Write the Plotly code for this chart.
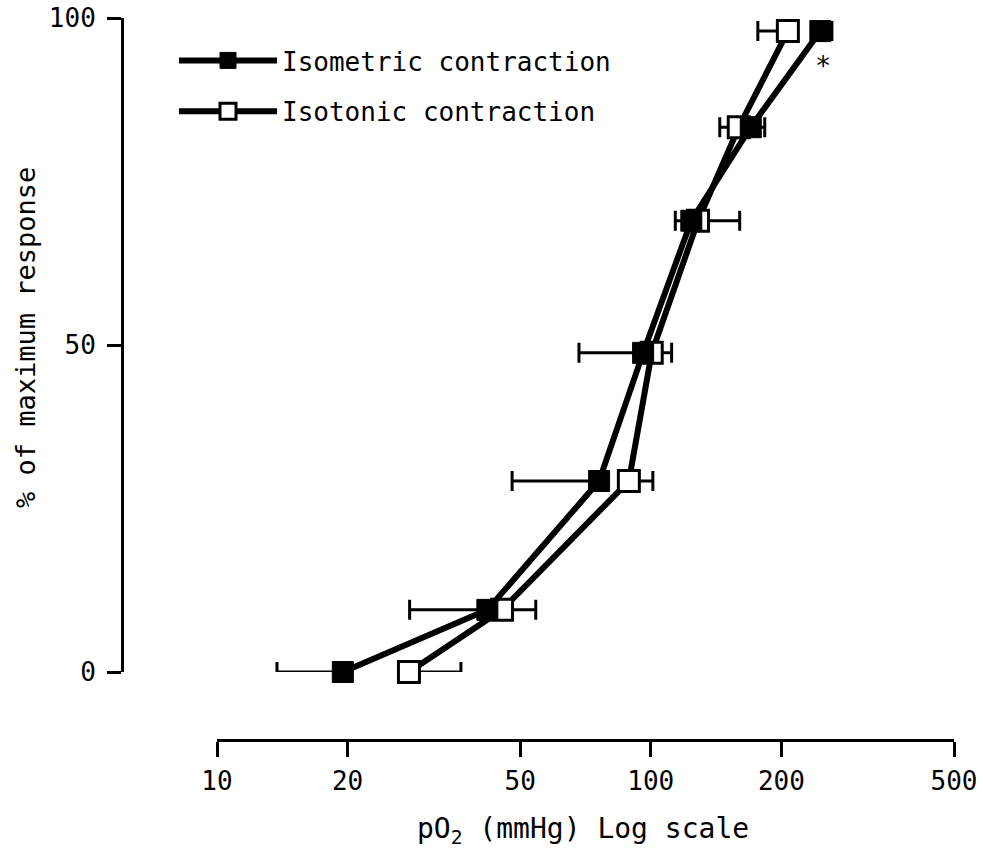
import math
import plotly.graph_objects as go

# ---- data ----
po2_isometric = [19.5, 42.0, 76.0, 96.0, 124.0, 170.0, 246.0]
resp_isometric = [0.0, 9.5, 29.2, 48.8, 69.0, 83.3, 98.0]
err_iso_minus = [5.75, 14.2, 28.1, 27.7, 10.1, 0.0, 0.0]
err_iso_plus = [0.0, 0.0, 0.0, 0.0, 0.0, 13.1, 15.5]

po2_isotonic = [27.7, 45.4, 89.0, 100.5, 128.5, 159.5, 207.0]
resp_isotonic = [0.0, 9.5, 29.2, 48.8, 69.0, 83.3, 98.0]
err_ton_plus = [8.8, 8.9, 12.1, 11.2, 31.8, 0.0, 0.0]
err_ton_minus = [0.0, 0.0, 0.0, 0.0, 0.0, 15.3, 30.5]

x_ticks = [10, 20, 50, 100, 200, 500]
y_ticks = [0, 50, 100]

FONT = "DejaVu Sans Mono, Liberation Mono, monospace"
W, H = 983, 862

fig = go.Figure()

fig.add_trace(go.Scatter(
    x=po2_isotonic, y=resp_isotonic, mode="lines+markers",
    name="Isotonic contraction", legendgroup="b", legendrank=2,
    line=dict(color="black", width=6),
    marker=dict(symbol="square", size=21, color="white",
                line=dict(color="black", width=3)),
    error_x=dict(type="data", symmetric=False, array=err_ton_plus,
                 arrayminus=err_ton_minus, color="black", thickness=3, width=10),
    cliponaxis=False,
))
fig.add_trace(go.Scatter(
    x=po2_isometric, y=resp_isometric, mode="lines+markers",
    name="Isometric contraction", legendgroup="a", legendrank=1,
    line=dict(color="black", width=6),
    marker=dict(symbol="square", size=21, color="black",
                line=dict(color="black", width=1)),
    error_x=dict(type="data", symmetric=False, array=err_iso_plus,
                 arrayminus=err_iso_minus, color="black", thickness=3, width=10),
    cliponaxis=False,
))

fig.add_annotation(x=math.log10(250), y=92.8, xref="x", yref="y", text="*",
                   showarrow=False, xanchor="center", yanchor="middle",
                   font=dict(family=FONT, size=27, color="black"))

# axis titles as annotations
fig.add_annotation(x=583 / W, y=1 - 830 / H, xref="paper", yref="paper",
                   xanchor="center", yanchor="middle",
                   text="pO<sub>2</sub> (mmHg) Log scale", showarrow=False,
                   font=dict(family=FONT, size=28, color="black"))
fig.add_annotation(x=25 / W, y=1 - 338 / H, xref="paper", yref="paper",
                   xanchor="center", yanchor="middle",
                   text="% of maximum response", textangle=-90, showarrow=False,
                   font=dict(family=FONT, size=27, color="black"))

fig.update_layout(
    width=W, height=H,
    margin=dict(l=0, r=0, t=0, b=0),
    paper_bgcolor="white", plot_bgcolor="white",
    font=dict(family=FONT, size=26, color="black"),
    showlegend=True,
    legend=dict(x=174 / W, y=1 - 37 / H, xanchor="left", yanchor="top",
                bgcolor="rgba(0,0,0,0)", tracegroupgap=14, itemwidth=98,
                font=dict(family=FONT, size=26, color="black")),
    xaxis=dict(
        type="log", range=[1, math.log10(500)],
        domain=[217 / W, 954 / W],
        anchor="free", position=1 - 740 / H,
        tickmode="array", tickvals=x_ticks, ticktext=[str(v) for v in x_ticks],
        ticks="outside", ticklen=15, tickwidth=3, tickcolor="black",
        showline=True, linewidth=3, linecolor="black",
        showgrid=False, zeroline=False, automargin=False,
        ticklabelstandoff=2,
        tickfont=dict(family=FONT, size=26, color="black"),
    ),
    yaxis=dict(
        range=[0, 100],
        domain=[1 - 672 / H, 1 - 18 / H],
        anchor="free", position=122 / W,
        tickmode="array", tickvals=y_ticks, ticktext=[str(v) for v in y_ticks],
        ticks="outside", ticklen=14, tickwidth=3, tickcolor="black",
        showline=True, linewidth=3, linecolor="black",
        showgrid=False, zeroline=False, automargin=False,
        ticklabelstandoff=6,
        tickfont=dict(family=FONT, size=26, color="black"),
    ),
)

fig.write_html("out.html")
